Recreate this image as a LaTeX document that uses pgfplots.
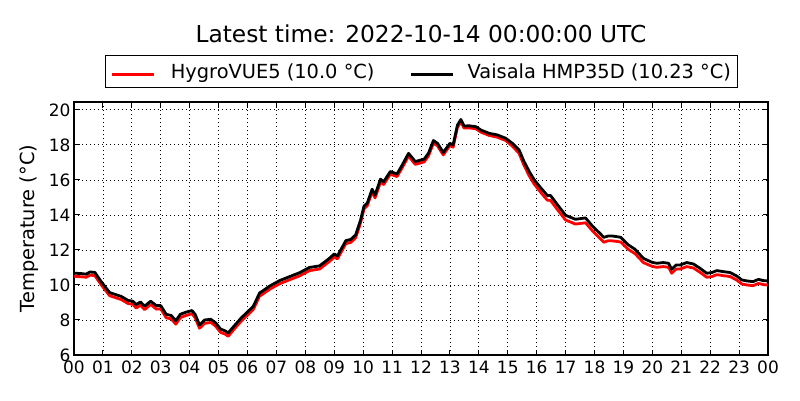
\documentclass[border=0pt]{standalone}
\usepackage{fontspec}
\setmainfont{DejaVu Sans}
\usepackage{pgfplots}
\pgfplotsset{compat=1.18}
\usepackage{pgfplotstable}

\pgfplotstableread{
h T
0.00 10.68
0.15 10.66
0.25 10.65
0.42 10.62
0.55 10.74
0.72 10.72
0.94 10.19
1.10 9.85
1.23 9.57
1.46 9.44
1.63 9.35
1.87 9.12
2.04 9.07
2.15 8.88
2.30 9.03
2.44 8.79
2.65 9.07
2.85 8.82
3.00 8.82
3.19 8.32
3.36 8.26
3.52 7.96
3.68 8.33
3.88 8.45
4.08 8.54
4.19 8.32
4.34 7.72
4.52 8.00
4.73 8.04
4.89 7.85
5.07 7.48
5.23 7.38
5.33 7.26
5.56 7.70
5.79 8.13
6.10 8.62
6.20 8.78
6.42 9.55
6.49 9.62
6.77 9.94
7.11 10.25
7.46 10.48
7.80 10.70
8.14 11.00
8.49 11.09
8.83 11.52
9.00 11.77
9.11 11.66
9.40 12.53
9.57 12.60
9.74 12.86
9.91 13.71
10.03 14.51
10.14 14.67
10.31 15.47
10.41 15.14
10.60 16.04
10.71 15.90
10.94 16.48
11.17 16.34
11.32 16.76
11.57 17.52
11.80 17.05
11.94 17.11
12.11 17.19
12.26 17.53
12.43 18.25
12.57 18.09
12.77 17.57
13.00 18.09
13.11 18.00
13.26 19.13
13.38 19.45
13.49 19.08
13.67 19.09
13.90 19.04
14.07 18.85
14.36 18.66
14.64 18.57
14.93 18.38
15.16 18.09
15.39 17.72
15.56 17.06
15.74 16.49
15.91 16.02
16.14 15.55
16.37 15.11
16.48 15.11
16.71 14.60
17.00 13.98
17.34 13.75
17.69 13.83
17.92 13.38
18.21 12.91
18.32 12.72
18.48 12.80
18.60 12.80
18.77 12.76
18.91 12.72
19.17 12.29
19.40 12.04
19.69 11.52
19.98 11.30
20.15 11.24
20.38 11.28
20.56 11.24
20.67 10.90
20.82 11.14
20.96 11.14
21.19 11.28
21.42 11.20
21.65 10.95
21.88 10.67
22.06 10.71
22.23 10.82
22.46 10.76
22.69 10.71
22.92 10.51
23.09 10.29
23.27 10.23
23.48 10.19
23.67 10.32
23.84 10.25
24.00 10.23
}\vaisala

\pgfplotstableread{
h T
0.00 10.50
0.15 10.48
0.25 10.47
0.42 10.44
0.55 10.56
0.72 10.54
0.94 10.01
1.10 9.67
1.23 9.39
1.46 9.26
1.63 9.17
1.87 8.94
2.04 8.89
2.15 8.68
2.30 8.85
2.44 8.59
2.65 8.89
2.85 8.62
3.00 8.64
3.19 8.12
3.36 8.07
3.52 7.76
3.68 8.14
3.88 8.26
4.08 8.36
4.19 8.13
4.34 7.53
4.52 7.81
4.73 7.86
4.89 7.66
5.07 7.29
5.23 7.19
5.33 7.07
5.56 7.52
5.79 7.95
6.10 8.44
6.20 8.60
6.42 9.37
6.49 9.44
6.77 9.76
7.11 10.07
7.46 10.30
7.80 10.52
8.14 10.82
8.49 10.91
8.83 11.34
9.00 11.59
9.11 11.49
9.40 12.36
9.57 12.43
9.74 12.69
9.91 13.55
10.03 14.35
10.14 14.52
10.31 15.32
10.41 14.97
10.60 15.88
10.71 15.74
10.94 16.33
11.17 16.19
11.32 16.61
11.57 17.36
11.80 16.89
11.94 16.95
12.11 17.03
12.26 17.38
12.43 18.10
12.57 17.95
12.77 17.43
13.00 17.96
13.11 17.87
13.26 19.00
13.38 19.32
13.49 18.96
13.67 18.97
13.90 18.92
14.07 18.73
14.36 18.54
14.64 18.44
14.93 18.25
15.16 17.93
15.39 17.52
15.56 16.84
15.74 16.24
15.91 15.77
16.14 15.29
16.37 14.84
16.48 14.83
16.71 14.32
17.00 13.71
17.34 13.48
17.69 13.55
17.92 13.11
18.21 12.63
18.32 12.44
18.48 12.53
18.60 12.52
18.77 12.49
18.91 12.45
19.17 12.03
19.40 11.79
19.69 11.28
19.98 11.07
20.15 11.01
20.38 11.05
20.56 11.01
20.67 10.67
20.82 10.91
20.96 10.91
21.19 11.05
21.42 10.97
21.65 10.72
21.88 10.44
22.06 10.48
22.23 10.59
22.46 10.53
22.69 10.48
22.92 10.28
23.09 10.06
23.27 10.00
23.48 9.96
23.67 10.09
23.84 10.02
24.00 10.00
}\hygro

\begin{document}
\begin{tikzpicture}
\useasboundingbox (0,0) rectangle (800pt,400pt);
\begin{axis}[
  at={(74pt,45pt)}, anchor=south west,
  scale only axis, width=694pt, height=253pt,
  xmin=0, xmax=24, ymin=6, ymax=20.45,
  xtick={0,1,...,24},
  xticklabels={00,01,02,03,04,05,06,07,08,09,10,11,12,13,14,15,16,17,18,19,20,21,22,23,00},
  ytick={6,8,10,12,14,16,18,20},
  /pgf/number format/assume math mode=true,
  tick label style={font=\fontsize{17}{20}\selectfont},
  xticklabel style={yshift=-2.5pt},
  tick align=inside,
  major tick length=5.5pt,
  tick style={black, line width=1pt},
  axis line style={line width=1.2pt},
  grid=major,
  major grid style={black, line width=0.8pt, dash pattern=on 1.2pt off 2.8pt},
  ylabel={Temperature (°C)},
  every axis y label/.style={at={(axis description cs:-0.064,0.5)}, rotate=90, anchor=center, inner sep=0pt, font=\fontsize{19.4}{23}\selectfont},
  title={Latest time: 2022-10-14 00:00:00 UTC},
  every axis title/.style={at={(axis description cs:0.5,1.236)}, anchor=base, inner sep=0pt, font=\fontsize{23.3}{28}\selectfont},
  legend columns=2,
  legend style={at={(axis description cs:0.5,1.1858)}, anchor=north, draw=black, line width=1pt,
    inner xsep=6pt, inner ysep=8pt,
    nodes={inner sep=0pt, anchor=base west},
    font=\fontsize{19.4}{23}\selectfont},
  legend image code/.code={\draw[#1, line width=2.8pt] (0pt,0.35em) -- (42pt,0.35em);},
  legend cell align=left,
]
\addplot[red, line width=2.8pt, line join=round] table[x=h, y=T] {\hygro};
\addlegendentry{\hbox to 254pt{\kern15pt HygroVUE5 (10.0 °C)\hfil}}
\addplot[black, line width=2.8pt, line join=round] table[x=h, y=T] {\vaisala};
\addlegendentry{\hbox{\kern13pt Vaisala HMP35D (10.23 °C)}}
\end{axis}
\end{tikzpicture}
\end{document}
